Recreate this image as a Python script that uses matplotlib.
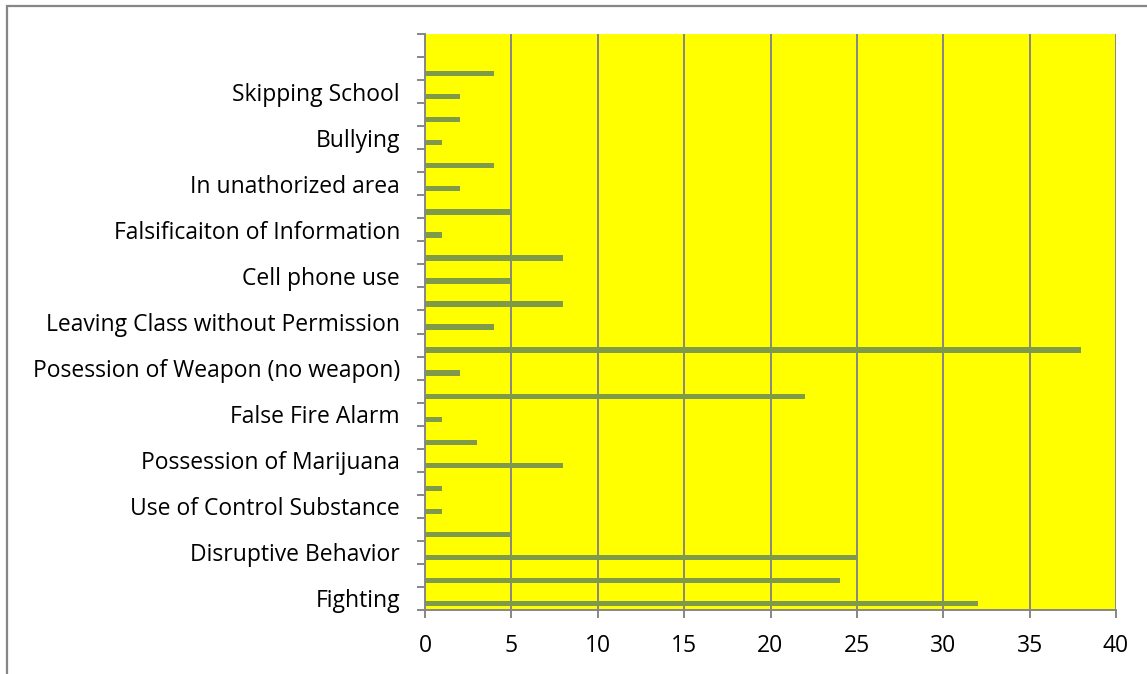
import matplotlib
matplotlib.use("Agg")
import matplotlib.pyplot as plt
from matplotlib.patches import Rectangle
import numpy as np

# Categories from bottom to top; only every other row carries a visible label
categories = [
    "Fighting", "",
    "Disruptive Behavior", "",
    "Use of Control Substance", "",
    "Possession of Marijuana", "",
    "False Fire Alarm", "",
    "Posession of Weapon (no weapon)", "",
    "Leaving Class without Permission", "",
    "Cell phone use", "",
    "Falsificaiton of Information", "",
    "In unathorized area", "",
    "Bullying", "",
    "Skipping School", "",
    "",
]
counts = [32, 24, 25, 5, 1, 1, 8, 3, 1, 22, 2, 38, 4, 8, 5, 8, 1, 5, 2, 4, 1, 2, 2, 4, 0]
x_ticks = [0, 5, 10, 15, 20, 25, 30, 35, 40]

W, H = 1147, 674
fig = plt.figure(figsize=(W / 100, H / 100), dpi=100)
fig.patch.set_facecolor("white")

# Chart-area border (runs off the right and bottom edges)
fig.add_artist(Rectangle((6.5 / W, -0.05), 1.2, (H - 5.5) / H + 0.05,
                         transform=fig.transFigure, fill=False,
                         edgecolor="#868686", linewidth=1.6))

left, right, top, bottom = 425, 1116, 34, 610
ax = fig.add_axes([left / W, (H - bottom) / H, (right - left) / W, (bottom - top) / H])
ax.set_facecolor("#FFFF00")

grid_col = "#868686"
bar_col = "#7F9A48"
font = "Open Sans"
fsize = 16.5

n = len(categories)
pos = np.arange(n)
ax.barh(pos - 0.22, counts, height=0.23, color=bar_col, zorder=3)

ax.set_xlim(0, 40)
ax.set_ylim(-0.5, n - 0.5)

ax.set_xticks(x_ticks)
ax.set_xticklabels([str(v) for v in x_ticks], fontfamily=font, fontsize=fsize)
for v in x_ticks[1:]:
    ax.axvline(v, color=grid_col, linewidth=1.4, zorder=2)

# Tick marks sit between categories; labels sit on category centres
ax.set_yticks(np.arange(n + 1) - 0.5)
ax.set_yticklabels([])
ax.set_yticks(pos, minor=True)
ax.set_yticklabels(categories, minor=True, fontfamily=font, fontsize=fsize)
ax.tick_params(axis="y", which="major", direction="out", length=6,
               width=1.4, color=grid_col)
ax.tick_params(axis="y", which="minor", length=0, pad=18)
ax.tick_params(axis="x", direction="out", length=6, width=1.4,
               color=grid_col, pad=11)

for side in ("top", "right"):
    ax.spines[side].set_visible(False)
for side in ("left", "bottom"):
    ax.spines[side].set_color(grid_col)
    ax.spines[side].set_linewidth(1.4)
    ax.spines[side].set_zorder(4)

fig.savefig("out.png", dpi=100)
